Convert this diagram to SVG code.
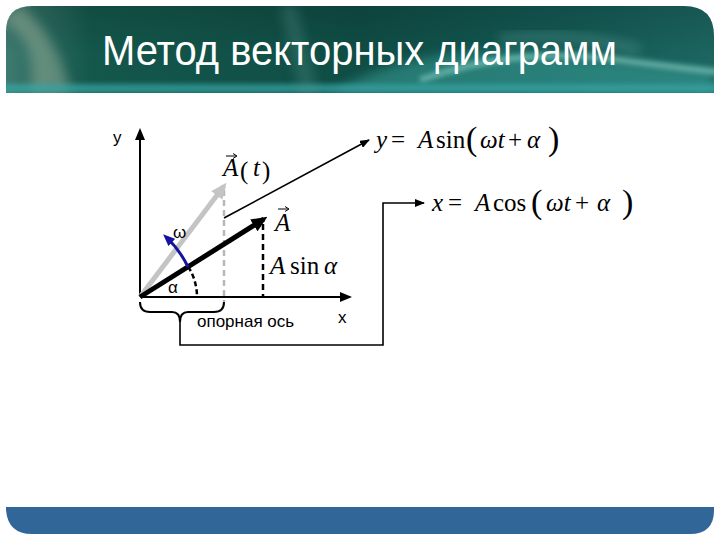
<svg xmlns="http://www.w3.org/2000/svg" width="720" height="540" viewBox="0 0 720 540">
<defs>
<linearGradient id="hdr" x1="0" y1="0" x2="1" y2="0">
<stop offset="0" stop-color="#3d7a70"/>
<stop offset="0.12" stop-color="#14574b"/>
<stop offset="0.5" stop-color="#0f4d45"/>
<stop offset="0.8" stop-color="#145a55"/>
<stop offset="1" stop-color="#1c6560"/>
</linearGradient>
<linearGradient id="hdrV" x1="0" y1="0" x2="0" y2="1">
<stop offset="0" stop-color="#000" stop-opacity="0.15"/>
<stop offset="0.6" stop-color="#000" stop-opacity="0"/>
<stop offset="1" stop-color="#000" stop-opacity="0"/>
</linearGradient>
<filter id="blur" x="-20%" y="-50%" width="140%" height="200%"><feGaussianBlur stdDeviation="6"/></filter>
<filter id="blur2" x="-20%" y="-50%" width="140%" height="200%"><feGaussianBlur stdDeviation="2.5"/></filter>
<clipPath id="hc"><path d="M6 93 L6 32 Q6 6 32 6 L684 6 Q714 6 714 36 L714 93 Z"/></clipPath>
<marker id="ah" markerWidth="12" markerHeight="10" refX="10" refY="5" orient="auto" markerUnits="userSpaceOnUse"><path d="M0 0 L12 5 L0 10 Z" fill="#000"/></marker>
<marker id="ahs" markerWidth="10" markerHeight="8" refX="9" refY="4" orient="auto" markerUnits="userSpaceOnUse"><path d="M0 0 L10 4 L0 8 Z" fill="#000"/></marker>
<marker id="ahg" markerWidth="16" markerHeight="14" refX="12" refY="7" orient="auto" markerUnits="userSpaceOnUse"><path d="M0 0 L16 7 L0 14 Z" fill="#c4c4c4"/></marker>
<marker id="ahk" markerWidth="16" markerHeight="14" refX="12" refY="7" orient="auto" markerUnits="userSpaceOnUse"><path d="M0 0 L16 7 L0 14 Z" fill="#000"/></marker>
<marker id="ahb" markerWidth="12" markerHeight="10" refX="8" refY="5" orient="auto" markerUnits="userSpaceOnUse"><path d="M0 0 L12 5 L0 10 Z" fill="#1414a0"/></marker>
</defs>
<style>
.math{font-family:"Liberation Serif","Times New Roman",serif;font-size:25px;fill:#000}
.it{font-style:italic}
.par{font-size:34px}
.lbl{font-family:"Liberation Sans",Arial,sans-serif;font-size:17px;fill:#000}
.ax{stroke:#000;stroke-width:2;fill:none}
</style>
<rect width="720" height="540" fill="#fff"/>
<g id="header">
<path d="M6 93 L6 32 Q6 6 32 6 L684 6 Q714 6 714 36 L714 93 Z" fill="url(#hdr)"/>
<g clip-path="url(#hc)">
<rect x="0" y="0" width="720" height="93" fill="url(#hdrV)"/>
<path d="M0 20 Q40 40 30 93 L70 93 Q60 40 20 5 Z" fill="#a8b8a0" opacity="0.45" filter="url(#blur)"/>
<path d="M330 93 Q420 40 560 55 Q640 62 714 70 L714 93 Z" fill="#3aa09a" opacity="0.55" filter="url(#blur)"/>
<path d="M420 80 Q520 45 620 60 Q680 68 720 72" stroke="#8fd4c8" stroke-width="6" fill="none" opacity="0.6" filter="url(#blur2)"/>
<path d="M500 40 Q560 30 640 50" stroke="#6ab0a8" stroke-width="10" fill="none" opacity="0.35" filter="url(#blur)"/>
<rect x="0" y="84" width="720" height="9" fill="#3aa8a8" opacity="0.7" filter="url(#blur2)"/>
<path d="M280 5 L300 93 L318 93 L296 5 Z" fill="#5a9a90" opacity="0.3" filter="url(#blur)"/>
</g>
<text x="102" y="65" font-family="'Liberation Sans', Arial, sans-serif" font-size="42" fill="#fff" textLength="515" lengthAdjust="spacingAndGlyphs">Метод векторных диаграмм</text>
</g>
<g id="footer">
<path d="M6 507 L714 507 L714 510 Q714 534 690 534 L32 534 Q8 534 6 510 Z" fill="#316699"/>
</g>
<g id="connectors">
<line class="ax" x1="140" y1="297" x2="140" y2="130" marker-end="url(#ah)"/>
<line class="ax" x1="140" y1="297" x2="350" y2="297" marker-end="url(#ah)"/>
<line x1="224" y1="190" x2="224" y2="302" stroke="#b8b8b8" stroke-width="2.5" stroke-dasharray="6 4"/>
<line x1="263" y1="224" x2="263" y2="297" stroke="#000" stroke-width="2.5" stroke-dasharray="6 4"/>
<path d="M188.3 266.8 A57 57 0 0 1 197 297" stroke="#000" stroke-width="2.5" fill="none" stroke-dasharray="5 3"/>
<line x1="140" y1="297" x2="224" y2="186" stroke="#c4c4c4" stroke-width="5" marker-end="url(#ahg)"/>
<line x1="140" y1="297" x2="264" y2="219" stroke="#000" stroke-width="5" marker-end="url(#ahk)"/>
<path d="M188 267 Q180 250 166 237" stroke="#1414a0" stroke-width="3" fill="none" marker-end="url(#ahb)"/>
<line x1="224" y1="218" x2="369" y2="140" stroke="#000" stroke-width="1.6" marker-end="url(#ahs)"/>
<path d="M140 302 Q140 312 150 312 L172 312 Q180 312 180 322 Q180 312 188 312 L214 312 Q224 312 224 302" stroke="#000" stroke-width="2" fill="none"/>
<path d="M180 322 L180 345 L383 345 L383 203 L424 203" stroke="#000" stroke-width="1.6" fill="none" marker-end="url(#ahs)"/>
</g>
<g id="labels">
<text class="lbl" x="113" y="143">y</text>
<text class="lbl" x="338" y="323">x</text>
<text class="lbl" x="173" y="238">ω</text>
<text class="lbl" x="168" y="293">α</text>
<text class="lbl" x="197" y="327">опорная ось</text>
</g>
<g id="vec-At">
<text class="math it" x="223" y="176">A</text>
<path d="M226 156 L236 156" stroke="#000" stroke-width="1"/><path d="M233 153.5 L237 156 L233 158.5" stroke="#000" stroke-width="1" fill="none"/>
<text class="math" x="240" y="179" font-size="32">(</text>
<text class="math it" x="253" y="176">t</text>
<text class="math" x="262" y="179" font-size="32">)</text>
</g>
<g id="vec-A">
<text class="math it" x="275" y="231" font-size="27">A</text>
<path d="M278 209 L288 209" stroke="#000" stroke-width="1"/><path d="M285 206.5 L289 209 L285 211.5" stroke="#000" stroke-width="1" fill="none"/>
</g>
<g id="asin">
<text class="math" x="270" y="274" font-size="27"><tspan class="it">A</tspan><tspan x="290">sin</tspan><tspan class="it" x="324">α</tspan></text>
</g>
<g id="eq-y">
<text class="math" x="376" y="148"><tspan class="it">y</tspan><tspan x="391">=</tspan><tspan class="it" x="418">A</tspan><tspan x="436">sin</tspan><tspan class="par" x="466" y="150">(</tspan><tspan class="it" x="480" y="148">ωt</tspan><tspan x="508">+</tspan><tspan class="it" x="527">α</tspan><tspan class="par" x="548" y="150">)</tspan></text>
</g>
<g id="eq-x">
<text class="math" x="432" y="211"><tspan class="it">x</tspan><tspan x="448">=</tspan><tspan class="it" x="475">A</tspan><tspan x="493">cos</tspan><tspan class="par" x="531" y="213">(</tspan><tspan class="it" x="546" y="211">ωt</tspan><tspan x="575">+</tspan><tspan class="it" x="597">α</tspan><tspan class="par" x="622" y="213">)</tspan></text>
</g>
</svg>
